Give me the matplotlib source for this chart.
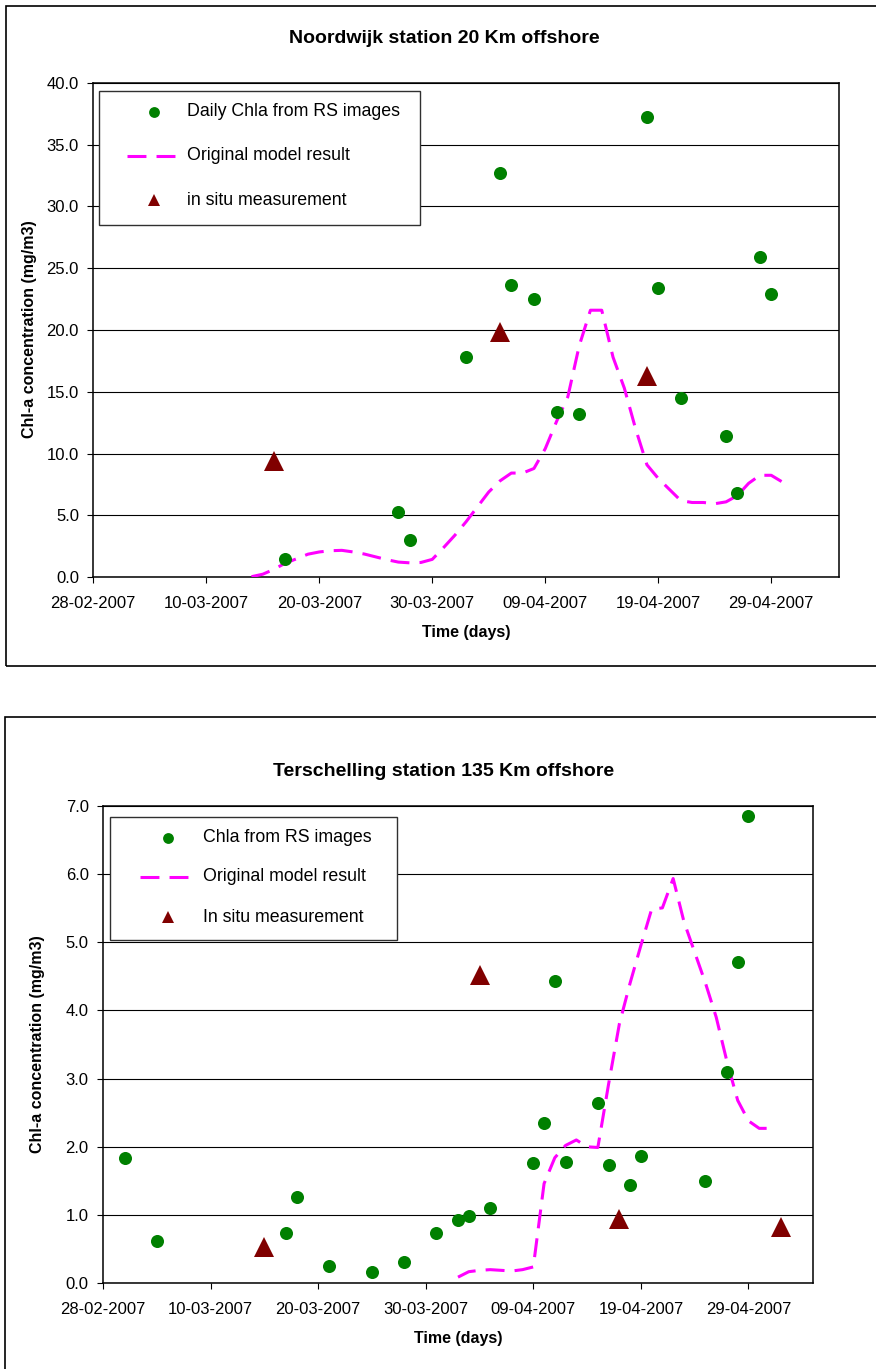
import matplotlib
matplotlib.use('Agg')
import matplotlib.pyplot as plt
import pandas as pd
from matplotlib.lines import Line2D
from matplotlib.patches import Rectangle

plt.rcParams['font.family'] = ['Liberation Sans', 'DejaVu Sans']

W, H, DPI = 876, 1369, 100

# ---------------- data ----------------
tick_labels = ['28-02-2007', '10-03-2007', '20-03-2007', '30-03-2007',
               '09-04-2007', '19-04-2007', '29-04-2007']
x_start, x_end = '2007-02-28', '2007-05-05'

# Noordwijk station 20 Km offshore
nw_rs_dates = ['2007-03-17', '2007-03-27', '2007-03-28', '2007-04-02', '2007-04-05',
               '2007-04-06', '2007-04-08', '2007-04-10', '2007-04-12', '2007-04-18',
               '2007-04-19', '2007-04-21', '2007-04-25', '2007-04-26', '2007-04-28',
               '2007-04-29']
nw_rs_values = [1.45, 5.25, 3.0, 17.8, 32.7, 23.6, 22.5, 13.4, 13.2, 37.2,
                23.4, 14.5, 11.4, 6.8, 25.9, 22.95]
nw_insitu_dates = ['2007-03-16', '2007-04-05', '2007-04-18']
nw_insitu_values = [9.4, 19.8, 16.3]
nw_model_start = '2007-03-14'
nw_model_values = [0.05, 0.25, 0.65, 1.15, 1.5, 1.87, 2.05, 2.15, 2.18, 2.05,
                   1.88, 1.65, 1.42, 1.23, 1.17, 1.2, 1.45, 2.4, 3.4, 4.5,
                   5.7, 6.9, 7.8, 8.43, 8.43, 8.8, 10.4, 12.6, 14.6, 18.7,
                   21.6, 21.6, 17.8, 15.3, 12.0, 9.1, 8.0, 7.1, 6.2, 6.05,
                   6.05, 5.95, 6.1, 6.6, 7.6, 8.25, 8.25, 7.7]

# Terschelling station 135 Km offshore
ts_rs_dates = ['2007-03-02', '2007-03-05', '2007-03-17', '2007-03-18', '2007-03-21',
               '2007-03-25', '2007-03-28', '2007-03-31', '2007-04-02', '2007-04-03',
               '2007-04-05', '2007-04-09', '2007-04-10', '2007-04-11', '2007-04-12',
               '2007-04-15', '2007-04-16', '2007-04-18', '2007-04-19', '2007-04-25',
               '2007-04-27', '2007-04-28', '2007-04-29']
ts_rs_values = [1.84, 0.62, 0.74, 1.27, 0.25, 0.17, 0.31, 0.74, 0.93, 0.99,
                1.11, 1.76, 2.35, 4.43, 1.78, 2.64, 1.74, 1.44, 1.86, 1.50,
                3.09, 4.70, 6.85]
ts_insitu_dates = ['2007-03-15', '2007-04-04', '2007-04-17', '2007-05-02']
ts_insitu_values = [0.53, 4.52, 0.94, 0.83]
ts_model_start = '2007-04-02'
ts_model_values = [0.09, 0.17, 0.19, 0.20, 0.19, 0.18, 0.20, 0.24, 1.46, 1.84,
                   2.02, 2.10, 2.00, 1.99, 2.92, 3.80, 4.40, 4.95, 5.48, 5.50,
                   5.93, 5.30, 4.85, 4.40, 3.90, 3.25, 2.68, 2.38, 2.27, 2.27]

charts = [
    dict(title='Noordwijk station 20 Km offshore', ymax=40.0, ystep=5.0,
         rs_d=nw_rs_dates, rs_v=nw_rs_values, is_d=nw_insitu_dates, is_v=nw_insitu_values,
         m_start=nw_model_start, m_v=nw_model_values,
         labels=['Daily Chla from RS images', 'Original model result', 'in situ measurement'],
         ax_px=(93.3, 82.7, 839, 577.3), box_px=(6, 6, 900, 666),
         title_xy=(444, 38.5), xlabel_xy=(466, 632), ylabel_xy=(29.5, 329),
         leg_px=(99.4, 91, 419.6, 225), leg_rows=(111.7, 155.8, 200.4),
         leg_line=(127, 176), leg_mark=153.6, leg_text=187),
    dict(title='Terschelling station 135 Km offshore', ymax=7.0, ystep=1.0,
         rs_d=ts_rs_dates, rs_v=ts_rs_values, is_d=ts_insitu_dates, is_v=ts_insitu_values,
         m_start=ts_model_start, m_v=ts_model_values,
         labels=['Chla from RS images', 'Original model result', 'In situ measurement'],
         ax_px=(103, 805.5, 813, 1283.3), box_px=(5, 717, 900, 1400),
         title_xy=(444, 771.5), xlabel_xy=(458, 1339), ylabel_xy=(38, 1044),
         leg_px=(110, 817, 397, 940), leg_rows=(837.7, 876.7, 917),
         leg_line=(140, 190.7), leg_mark=167.7, leg_text=202.7),
]

GREEN = '#008000'
MAROON = '#800000'
MAGENTA = '#FF00FF'
DASH = (6.2, 3.3)

fig = plt.figure(figsize=(W / DPI, H / DPI), dpi=DPI)


def fx(px):
    return px / W


def fy(py):
    return 1 - py / H


ticks = pd.to_datetime(tick_labels, format='%d-%m-%Y')

for c in charts:
    l, t, r, b = c['ax_px']
    ax = fig.add_axes([fx(l), fy(b), fx(r) - fx(l), fy(t) - fy(b)])

    m_dates = pd.date_range(c['m_start'], periods=len(c['m_v']), freq='D')
    ax.plot(m_dates, c['m_v'], color=MAGENTA, lw=2.2, dashes=DASH, zorder=3)
    ax.plot(pd.to_datetime(c['rs_d']), c['rs_v'], 'o', color=GREEN, ms=9.4,
            mew=0, zorder=4)
    ax.plot(pd.to_datetime(c['is_d']), c['is_v'], '^', color=MAROON, ms=14.4,
            mew=0, zorder=5)

    ax.set_xlim(pd.Timestamp(x_start), pd.Timestamp(x_end))
    ax.set_xticks(ticks)
    ax.set_xticklabels(tick_labels)
    n = int(round(c['ymax'] / c['ystep']))
    yt = [i * c['ystep'] for i in range(n + 1)]
    ax.set_ylim(0, c['ymax'])
    ax.set_yticks(yt)
    ax.set_yticklabels(['%.1f' % v for v in yt])
    ax.yaxis.grid(True, color='black', lw=0.8)
    ax.set_axisbelow(True)
    for s in ax.spines.values():
        s.set_color('black')
        s.set_linewidth(1.1)
    ax.tick_params(axis='both', direction='out', length=4.3, width=0.8,
                   labelsize=12, color='black')
    ax.tick_params(axis='y', pad=6)
    ax.tick_params(axis='x', pad=9.5)

    # titles and axis labels
    fig.text(fx(c['title_xy'][0]), fy(c['title_xy'][1]), c['title'],
             ha='center', va='center', fontsize=14, fontweight='bold')
    fig.text(fx(c['xlabel_xy'][0]), fy(c['xlabel_xy'][1]), 'Time (days)',
             ha='center', va='center', fontsize=11.5, fontweight='bold')
    fig.text(fx(c['ylabel_xy'][0]), fy(c['ylabel_xy'][1]), 'Chl-a concentration (mg/m3)',
             ha='center', va='center', rotation=90, fontsize=11.5, fontweight='bold')

    # outer chart border
    bl, bt, br, bb = c['box_px']
    fig.add_artist(Rectangle((fx(bl), fy(bb)), fx(br) - fx(bl), fy(bt) - fy(bb),
                             transform=fig.transFigure, fill=False, ec='black',
                             lw=1.2, clip_on=False, zorder=1))

    # legend
    ll, lt, lr, lb = c['leg_px']
    fig.add_artist(Rectangle((fx(ll), fy(lb)), fx(lr) - fx(ll), fy(lt) - fy(lb),
                             transform=fig.transFigure, fc='white', ec='#303030',
                             lw=1.0, zorder=6))
    r0, r1, r2 = c['leg_rows']
    fig.add_artist(Line2D([fx(c['leg_mark'])], [fy(r0)], marker='o', color=GREEN,
                          ms=7.8, mew=0, ls='none', transform=fig.transFigure, zorder=7))
    fig.add_artist(Line2D([fx(c['leg_line'][0]), fx(c['leg_line'][1])], [fy(r1), fy(r1)],
                          color=MAGENTA, lw=2.2, dashes=DASH,
                          transform=fig.transFigure, zorder=7))
    fig.add_artist(Line2D([fx(c['leg_mark'])], [fy(r2)], marker='^', color=MAROON,
                          ms=9.3, mew=0, ls='none', transform=fig.transFigure, zorder=7))
    for row, lab in zip(c['leg_rows'], c['labels']):
        fig.text(fx(c['leg_text']), fy(row), lab, ha='left', va='center',
                 fontsize=12.8, zorder=7)

fig.savefig('out.png', dpi=DPI, facecolor='white')
